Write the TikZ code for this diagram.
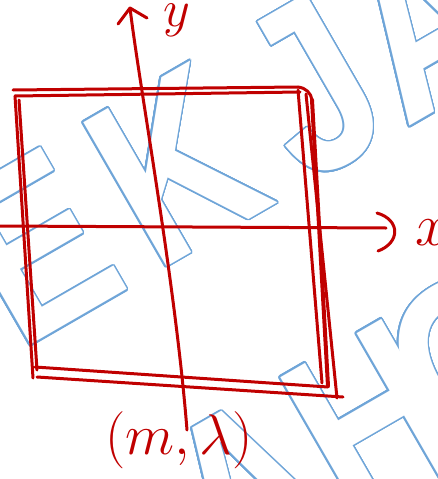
\documentclass[tikz,border=0pt]{standalone}
\usepackage{fontspec}
\usepackage{contour}
\newfontfamily\wmfont[FakeStretch=0.82]{Liberation Sans}
\definecolor{penred}{RGB}{192,0,0}
\definecolor{wmblue}{RGB}{111,165,216}
\contourlength{1.5pt}
\contournumber{32}

\begin{document}
\begin{tikzpicture}[x=1pt,y=-1pt]
\tikzset{pen/.style = {draw=penred, line width=3pt, line cap=round, line join=round},
	wmark/.style = {rotate=30, anchor=base west, inner sep=0pt, text=white,
		font=\wmfont\bfseries\fontsize{242}{242}\selectfont},
	hand/.style = {text=penred, inner sep=0pt, font=\Huge}}
\useasboundingbox (0,0) rectangle (437,479);

% watermark
\node[wmark] (wmone) at (19,352) {\contour{wmblue}{E\kern25pt K\kern30pt J\kern5pt A}};
\node[wmark, anchor=base east] (wmzero) at (wmone.base west) {\contour{wmblue}{S}};
\node[wmark] (wmtwo) at (228,600) {\contour{wmblue}{AH\kern-30pt O}};

% axes
\coordinate (xl) at (0,226);
\coordinate (xr) at (386,228);
\coordinate (yb) at (187,430);
\coordinate (yt) at (130,8);
\draw[pen] (xl) -- (xr);
\draw[pen] (377,213) .. controls (401,220) and (400,243) .. (378,251);
\draw[pen] (yb) .. controls (175,280) and (140,90) .. (yt);
\draw[pen] (118,24) -- (yt) -- (147,18);

% the square, drawn over a few times
\draw[pen] (13,90) -- (298,87);
\draw[pen] (15,96) -- (300,92);
\draw[pen] (298,87) .. controls (306,88) and (311,93) .. (312,100);
\draw[pen] (15,96) -- (33,378);
\draw[pen] (19,100) -- (37,370);
\draw[pen] (298,90) -- (322,383);
\draw[pen, line width=4pt] (312,100) -- (328,386);
\draw[pen] (306,94) -- (337,398);
\draw[pen] (35,367) -- (328,387);
\draw[pen] (37,377) -- (343,397);

% labels
\node[hand, scale=2.1] (ylab) at (177,20) {$y$};
\node[hand, scale=2.4] (xlab) at (432,233) {$x$};
\node[hand, scale=2.3] (pt) at (179,440) {$(m,\lambda)$};
\end{tikzpicture}
\end{document}
